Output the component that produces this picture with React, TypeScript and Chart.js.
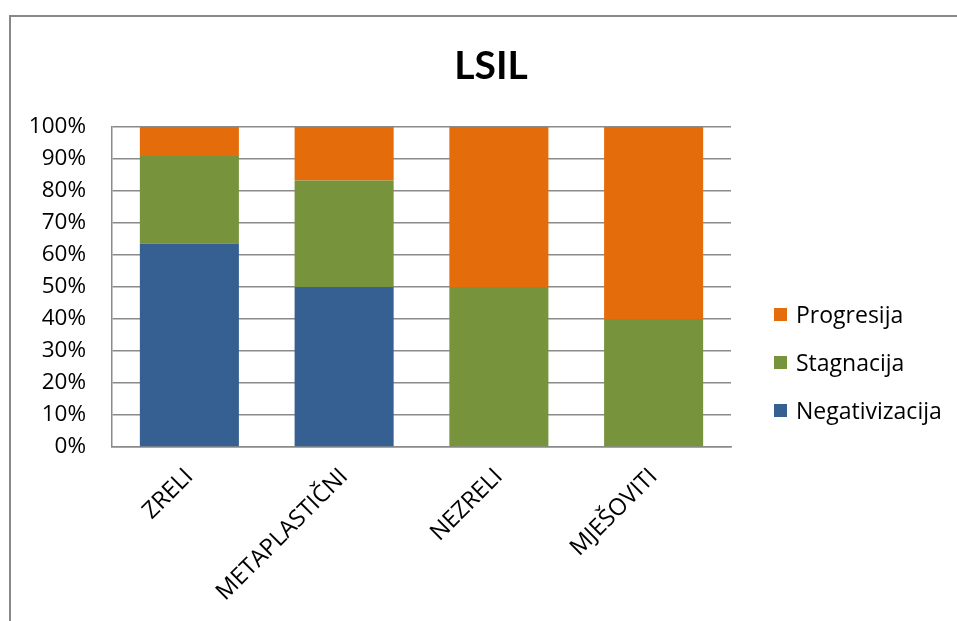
import React, { useEffect, useRef } from "react";
import { Chart, registerables } from "chart.js";

Chart.register(...registerables);

const TITLE = "LSIL";
const categories = ["ZRELI", "METAPLASTIČNI", "NEZRELI", "MJEŠOVITI"];
const seriesNames = ["Negativizacija", "Stagnacija", "Progresija"];
const negativizacija = [63.6, 50, 0, 0];
const stagnacija = [27.3, 33.3, 50, 40];
const progresija = [9.1, 16.7, 50, 60];
const seriesColors = ["#376092", "#77933C", "#E46C0A"];
const yTicks = [0, 10, 20, 30, 40, 50, 60, 70, 80, 90, 100];

const CANVAS_W = 957;
const CANVAS_H = 621;
const PLOT_LEFT = 112;
const PLOT_TOP = 127;
const PLOT_RIGHT = 731;
const PLOT_BOTTOM = 447;

const decorPlugin = {
  id: "decor",
  afterDraw(chart: any) {
    const ctx = chart.ctx;
    const ds = chart.data.datasets;
    ctx.save();
    // title
    ctx.font = 'bold 39px "Lato"';
    ctx.textAlign = "center";
    ctx.textBaseline = "alphabetic";
    ctx.fillStyle = "#000";
    ctx.fillText(TITLE, 491, 79);
    // legend
    ctx.font = '23px "Open Sans"';
    ctx.textBaseline = "middle";
    ctx.textAlign = "left";
    const startY = 315;
    const gap = 48;
    for (let k = 0; k < ds.length; k++) {
      const d = ds[ds.length - 1 - k];
      const y = startY + k * gap;
      ctx.fillStyle = d.backgroundColor;
      ctx.fillRect(774, y - 7, 13, 13);
      ctx.fillStyle = "#000";
      ctx.fillText(d.label, 796, y + 1);
    }
    ctx.restore();
  },
};

export default function App() {
  const ref = useRef<HTMLCanvasElement | null>(null);
  useEffect(() => {
    if (!ref.current) return;
    const values = [negativizacija, stagnacija, progresija];
    const chart = new Chart(ref.current, {
      type: "bar",
      data: {
        labels: categories,
        datasets: seriesNames.map((n, i) => ({
          label: n,
          data: values[i],
          backgroundColor: seriesColors[i],
          borderWidth: 0,
          barPercentage: 0.64,
          categoryPercentage: 1,
        })),
      },
      options: {
        responsive: false,
        animation: false,
        devicePixelRatio: 1,
        layout: {
          padding: { left: 0, top: PLOT_TOP, right: CANVAS_W - PLOT_RIGHT, bottom: 0 },
        },
        plugins: {
          legend: { display: false },
          tooltip: { enabled: false },
          title: { display: false },
        },
        scales: {
          x: {
            stacked: true,
            grid: { display: false, drawTicks: false },
            border: { display: true, color: "#8a8a8a", width: 1.5 },
            ticks: {
              color: "#000",
              font: { family: "Open Sans", size: 23.5 },
              maxRotation: 45,
              minRotation: 45,
              padding: 16,
              autoSkip: false,
            },
            afterFit(scale: any) {
              scale.height = CANVAS_H - PLOT_BOTTOM;
            },
          },
          y: {
            stacked: true,
            min: 0,
            max: 100,
            afterBuildTicks(scale: any) {
              scale.ticks = yTicks.map((v) => ({ value: v }));
            },
            grid: { color: "#8a8a8a", lineWidth: 1.5, drawTicks: false },
            border: { display: true, color: "#8a8a8a", width: 1.5 },
            ticks: {
              color: "#000",
              font: { family: "Open Sans", size: 22.5 },
              padding: 26,
              callback: (v: any) => v + "%",
            },
            afterFit(scale: any) {
              scale.width = PLOT_LEFT;
            },
          },
        },
      },
      plugins: [decorPlugin],
    });
    return () => chart.destroy();
  }, []);

  return (
    <div
      style={{
        position: "fixed",
        left: 0,
        top: 0,
        width: 957,
        height: 621,
        overflow: "hidden",
        background: "#fff",
      }}
    >
      <div
        style={{
          position: "absolute",
          left: 9,
          top: 15,
          width: 1000,
          height: 700,
          borderLeft: "2px solid #888",
          borderTop: "2px solid #888",
        }}
      />
      <canvas
        ref={ref}
        width={CANVAS_W}
        height={CANVAS_H}
        style={{ position: "absolute", left: 0, top: 0, width: CANVAS_W, height: CANVAS_H }}
      />
    </div>
  );
}
